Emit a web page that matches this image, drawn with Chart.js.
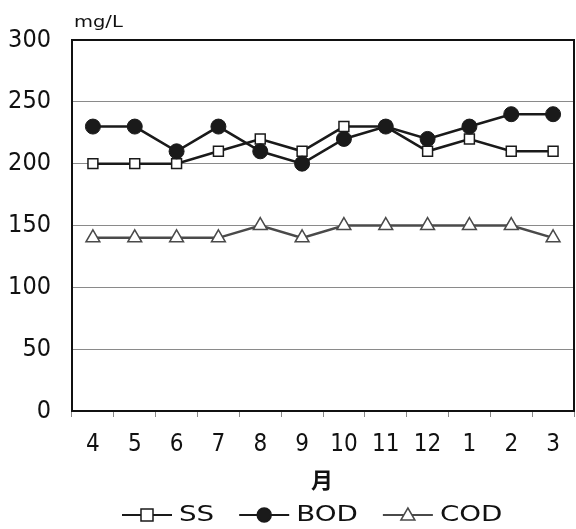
<!DOCTYPE html>
<html lang="ja">
<head>
<meta charset="UTF-8" />
<title>水質の推移</title>
<script src="https://cdn.jsdelivr.net/npm/chart.js"></script>
<style>
  html, body { margin: 0; padding: 0; background: #fff; }
  #wrap { width: 576px; height: 529px; }
</style>
</head>
<body>
<div id="wrap"><canvas id="chart" width="576" height="529"></canvas></div>
<script>
const months = ["4", "5", "6", "7", "8", "9", "10", "11", "12", "1", "2", "3"];
const ssValues = [200, 200, 200, 210, 220, 210, 230, 230, 210, 220, 210, 210];
const bodValues = [230, 230, 210, 230, 210, 200, 220, 230, 220, 230, 240, 240];
const codValues = [140, 140, 140, 140, 150, 140, 150, 150, 150, 150, 150, 140];
const yTicks = [0, 50, 100, 150, 200, 250, 300];

const NARROW = '"Liberation Sans Narrow", "DejaVu Sans Condensed", "Liberation Sans", sans-serif';
const WIDE = '"DejaVu Sans", "Liberation Sans", sans-serif';
const CJK = '"Noto Sans CJK JP", sans-serif';

// draw text stretched horizontally, left aligned at (x, y)
function wideText(ctx, text, x, y, sx) {
  ctx.save();
  ctx.translate(x, y);
  ctx.scale(sx, 1);
  ctx.fillText(text, 0, 0);
  ctx.restore();
  return ctx.measureText(text).width * sx;
}

// frame around the plot, unit label, axis title and the legend under it
const extras = {
  id: "extras",
  afterDraw(chart) {
    const ctx = chart.ctx;
    const a = chart.chartArea;
    ctx.save();
    ctx.strokeStyle = "#111";
    ctx.lineWidth = 2;
    ctx.strokeRect(a.left, a.top, a.right - a.left, a.bottom - a.top);

    ctx.fillStyle = "#111";
    ctx.font = "15px " + WIDE;
    ctx.textAlign = "left";
    ctx.textBaseline = "alphabetic";
    wideText(ctx, "mg/L", 74, 27, 1.3);

    ctx.font = "bold 22px " + CJK;
    ctx.textAlign = "center";
    ctx.textBaseline = "middle";
    ctx.fillText("月", 322, 480);

    // legend entries
    let x = 122;
    const y = 515;
    ctx.textAlign = "left";
    chart.data.datasets.forEach(ds => {
      ctx.strokeStyle = ds.borderColor;
      ctx.lineWidth = 2;
      ctx.beginPath();
      ctx.moveTo(x, y);
      ctx.lineTo(x + 50, y);
      ctx.stroke();
      const cx = x + 25;
      ctx.lineWidth = 1.5;
      ctx.strokeStyle = ds.pointBorderColor;
      ctx.fillStyle = ds.pointBackgroundColor;
      ctx.beginPath();
      if (ds.pointStyle === "rect") {
        ctx.rect(cx - 6, y - 6, 12, 12);
      } else if (ds.pointStyle === "circle") {
        ctx.arc(cx, y, 7, 0, Math.PI * 2);
      } else {
        ctx.moveTo(cx, y - 7);
        ctx.lineTo(cx + 7, y + 5);
        ctx.lineTo(cx - 7, y + 5);
        ctx.closePath();
      }
      ctx.fill();
      ctx.stroke();
      ctx.fillStyle = "#111";
      ctx.font = "21px " + WIDE;
      const w = wideText(ctx, ds.label, x + 57, y + 1, 1.32);
      x = x + 57 + w + 25;
    });
    ctx.restore();
  }
};

new Chart(document.getElementById("chart"), {
  type: "line",
  data: {
    labels: months,
    datasets: [
      {
        label: "SS",
        data: ssValues,
        borderColor: "#1a1a1a",
        borderWidth: 2.5,
        pointStyle: "rect",
        pointRadius: 7,
        pointBackgroundColor: "#fff",
        pointBorderColor: "#1a1a1a",
        pointBorderWidth: 1.5,
        order: 2
      },
      {
        label: "BOD",
        data: bodValues,
        borderColor: "#1a1a1a",
        borderWidth: 2.5,
        pointStyle: "circle",
        pointRadius: 7.5,
        pointBackgroundColor: "#1a1a1a",
        pointBorderColor: "#1a1a1a",
        pointBorderWidth: 1,
        order: 1
      },
      {
        label: "COD",
        data: codValues,
        borderColor: "#4a4a4a",
        borderWidth: 2.5,
        pointStyle: "triangle",
        pointRadius: 8,
        pointBackgroundColor: "#fff",
        pointBorderColor: "#4a4a4a",
        pointBorderWidth: 1.5,
        order: 3
      }
    ]
  },
  options: {
    responsive: false,
    animation: false,
    layout: { autoPadding: false, padding: { left: 0, right: 2, top: 40, bottom: 0 } },
    plugins: {
      legend: { display: false },
      tooltip: { enabled: false }
    },
    scales: {
      x: {
        offset: true,
        grid: {
          offset: true,
          drawOnChartArea: false,
          tickLength: 6,
          color: "#888"
        },
        border: { color: "#111", width: 2 },
        ticks: {
          color: "#111",
          padding: 13,
          font: { family: NARROW, size: 24 },
          maxRotation: 0
        },
        afterFit(scale) {
          scale.height = 118;
          scale.paddingLeft = 0;
          scale.paddingRight = 0;
        }
      },
      y: {
        min: 0,
        max: 300,
        afterBuildTicks(scale) { scale.ticks = yTicks.map(v => ({ value: v })); },
        grid: { color: "#8a8a8a", lineWidth: 1, drawTicks: false },
        border: { color: "#111", width: 2 },
        ticks: {
          color: "#111",
          padding: 21,
          font: { family: NARROW, size: 25 }
        },
        afterFit(scale) {
          scale.width = 72;
          scale.paddingTop = 0;
          scale.paddingBottom = 0;
        }
      }
    }
  },
  plugins: [extras]
});
</script>
</body>
</html>
